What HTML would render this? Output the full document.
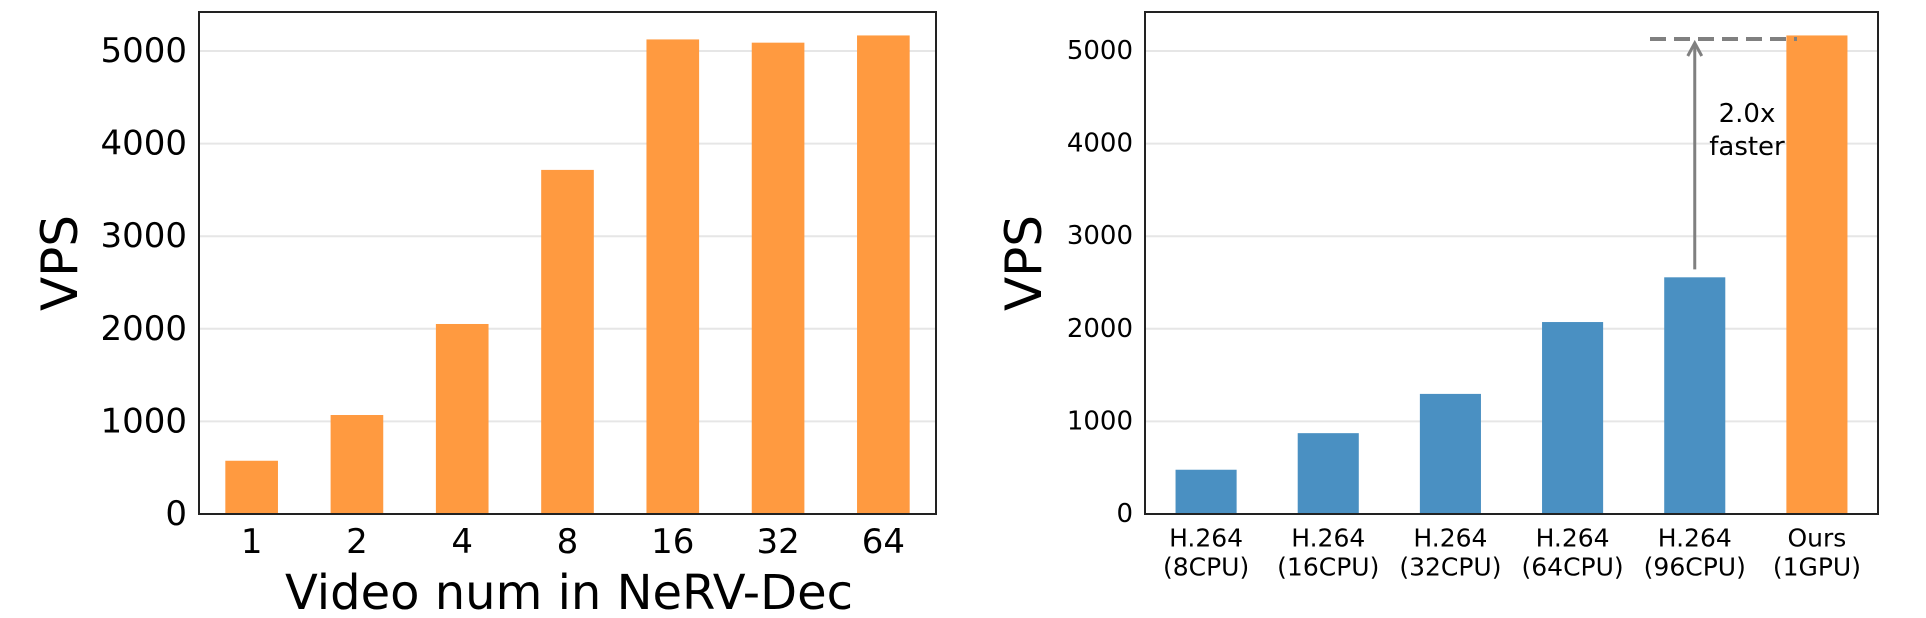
<!DOCTYPE html>
<html><head><meta charset="utf-8"><style>
body{margin:0;background:#fff}
svg{display:block;font-family:"DejaVu Sans","Liberation Sans",sans-serif}
</style></head><body>
<svg id="c" width="1926" height="618" viewBox="0 0 1926 618"></svg>
<script>
const leftCats = ["1","2","4","8","16","32","64"];
const leftVals = [575, 1069, 2052, 3716, 5125, 5090, 5168];
const rightCats1 = ["H.264","H.264","H.264","H.264","H.264","Ours"];
const rightCats2 = ["(8CPU)","(16CPU)","(32CPU)","(64CPU)","(96CPU)","(1GPU)"];
const rightVals = [478, 873, 1297, 2073, 2556, 5168];
const yTicks = [0, 1000, 2000, 3000, 4000, 5000];
const annoFrom = 2556, annoTo = 5150;

const NS = "http://www.w3.org/2000/svg";
const svg = document.getElementById('c');
function mk(tag, attrs, parent){const e=document.createElementNS(NS,tag);for(const k in attrs)e.setAttribute(k,attrs[k]);(parent||svg).appendChild(e);return e;}
const y0 = 514, pxPer = 92.6/1000;
function yS(v){return y0 - v*pxPer;}

function panel(L, R, cats, vals, colors, tickFs, name){
  const g = mk('g',{});
  
  
  const n = cats.length, step = (R-L)/n;
  function xS(i){return L + step*(i+0.5);}
  yTicks.forEach(t=>{
    const gl = mk('line',{x1:L,x2:R,y1:yS(t),y2:yS(t),stroke:'#e6e6e6','stroke-width':2},g);
    
    
    const tl = mk('text',{x:L-12,y:yS(t),'font-size':tickFs,'text-anchor':'end','dominant-baseline':'central',fill:'#000'},g);
    tl.textContent = t;
    
    
  });
  vals.forEach((v,i)=>{
    const w = step*0.5;
    const b = mk('rect',{x:xS(i)-w/2,y:yS(v),width:w,height:y0-yS(v),fill:colors[i]},g);
    
    
  });
  const fr = mk('rect',{x:L,y:12,width:R-L,height:y0-12,fill:'none',stroke:'#222','stroke-width':2},g);
  
  
  return {xS, g};
}

const P1 = panel(199, 936, leftCats, leftVals, leftVals.map(()=> '#ff9a40'), 34, 'left-chart');
leftCats.forEach((c,i)=>{
  const t = mk('text',{x:P1.xS(i),y:542,'font-size':34,'text-anchor':'middle','dominant-baseline':'central'},P1.g);
  t.textContent = c;
  
  
});
let t = mk('text',{x:569,y:593,'font-size':48,'text-anchor':'middle','dominant-baseline':'central'});
t.textContent = 'Video num in NeRV-Dec';


t = mk('text',{x:60,y:263,'font-size':50,'text-anchor':'middle','dominant-baseline':'central',transform:'rotate(-90 60 263)'});
t.textContent = 'VPS';



const P2 = panel(1145, 1878, rightCats1, rightVals, rightVals.map((v,i)=> i===rightVals.length-1 ? '#ff9a40' : '#4a90c2'), 26, 'right-chart');
rightCats1.forEach((c,i)=>{
  const a = mk('text',{x:P2.xS(i),y:538,'font-size':25,'text-anchor':'middle','dominant-baseline':'central'},P2.g);
  a.textContent = c;
  
  
  const b = mk('text',{x:P2.xS(i),y:567,'font-size':25,'text-anchor':'middle','dominant-baseline':'central'},P2.g);
  b.textContent = rightCats2[i];
  
  
});
t = mk('text',{x:1024,y:263,'font-size':50,'text-anchor':'middle','dominant-baseline':'central',transform:'rotate(-90 1024 263)'});
t.textContent = 'VPS';



const ax = P2.xS(4);
const yt = yS(annoTo) + 38 - yS(annoTo) + (yS(annoTo) - 38); // dashed line y
const dl = mk('line',{x1:1650,x2:1797,y1:39,y2:39,stroke:'#808080','stroke-width':4,'stroke-dasharray':'16,8'});


const al = mk('line',{x1:ax,x2:ax,y1:yS(annoFrom)-8,y2:43,stroke:'#808080','stroke-width':3});


const ah = mk('polyline',{points:`${ax-7},${56} ${ax},${43} ${ax+7},${56}`,fill:'none',stroke:'#808080','stroke-width':3});


t = mk('text',{x:1747,y:114,'font-size':26,'text-anchor':'middle','dominant-baseline':'central'});
t.textContent = '2.0x';


t = mk('text',{x:1747,y:147,'font-size':26,'text-anchor':'middle','dominant-baseline':'central'});
t.textContent = 'faster';


</script>
</body></html>
